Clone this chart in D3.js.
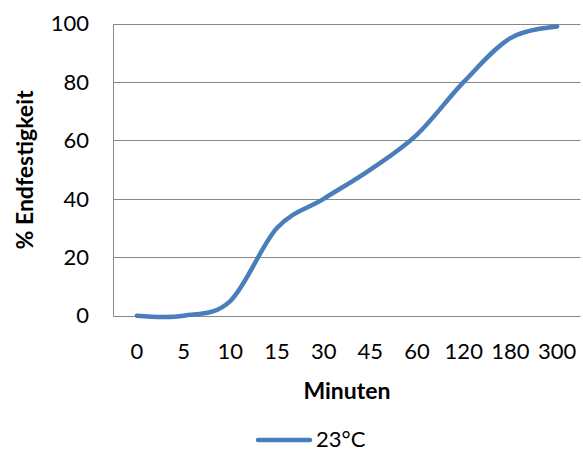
<!DOCTYPE html>
<html><head><meta charset="utf-8">
<script src="https://cdn.jsdelivr.net/npm/d3@7"></script>
<style>body{margin:0;background:#fff;}svg{display:block;}text{font-family:Lato,"Open Sans",sans-serif;fill:#000;}</style>
</head><body>
<svg id="c" width="583" height="452"></svg>
<script>
const categories = ["0","5","10","15","30","45","60","120","180","300"];
const values = [0, 0, 5, 30, 40, 50, 62, 80, 95, 99];
const yTicks = [0, 20, 40, 60, 80, 100];
const seriesName = "23°C";

const svg = d3.select("#c");
const L = 113.5, R = 580.5, T = 23.5, B = 315.7;
const x = d3.scalePoint().domain(categories).range([L, R]).padding(0.5);
const y = d3.scaleLinear().domain([0, 100]).range([B, T]);

// gridlines
svg.append("g").selectAll("line").data(yTicks).join("line")
  .attr("x1", L).attr("x2", R)
  .attr("y1", d => Math.round(y(d)) + 0.5).attr("y2", d => Math.round(y(d)) + 0.5)
  .attr("stroke", "#888").attr("stroke-width", 1);
// left axis line
svg.append("line").attr("x1", L).attr("x2", L).attr("y1", Math.round(T)+0.5).attr("y2", Math.round(B)+0.5)
  .attr("stroke", "#888").attr("stroke-width", 1);

// y tick labels
svg.append("g").selectAll("text").data(yTicks).join("text")
  .attr("x", 89).attr("y", d => y(d)).attr("dy", "0.35em")
  .attr("text-anchor", "end").attr("font-size", 22).text(d => d);

// x tick labels
svg.append("g").selectAll("text").data(categories).join("text")
  .attr("x", d => x(d)).attr("y", 358.5)
  .attr("text-anchor", "middle").attr("font-size", 22).text(d => d);

// axis titles
svg.append("text").attr("x", 347).attr("y", 399).attr("text-anchor", "middle")
  .attr("font-size", 23).attr("font-weight", "bold").text("Minuten");
svg.append("text").attr("transform", "translate(33,170) rotate(-90)")
  .attr("text-anchor", "middle").attr("font-size", 23).attr("font-weight", "bold").text("% Endfestigkeit");

// line
const line = d3.line().x((d, i) => x(categories[i])).y(d => y(d)).curve(d3.curveCardinal.tension(0));
svg.append("path").datum(values).attr("d", line)
  .attr("fill", "none").attr("stroke", "#4a7ebb").attr("stroke-width", 4.5).attr("stroke-linecap", "round");

// legend
svg.append("line").attr("x1", 258).attr("x2", 310).attr("y1", 440).attr("y2", 440)
  .attr("stroke", "#4a7ebb").attr("stroke-width", 4.5).attr("stroke-linecap", "round");
svg.append("text").attr("x", 316).attr("y", 439).attr("dy", "0.35em").attr("font-size", 22).text(seriesName);
</script>
</body></html>
